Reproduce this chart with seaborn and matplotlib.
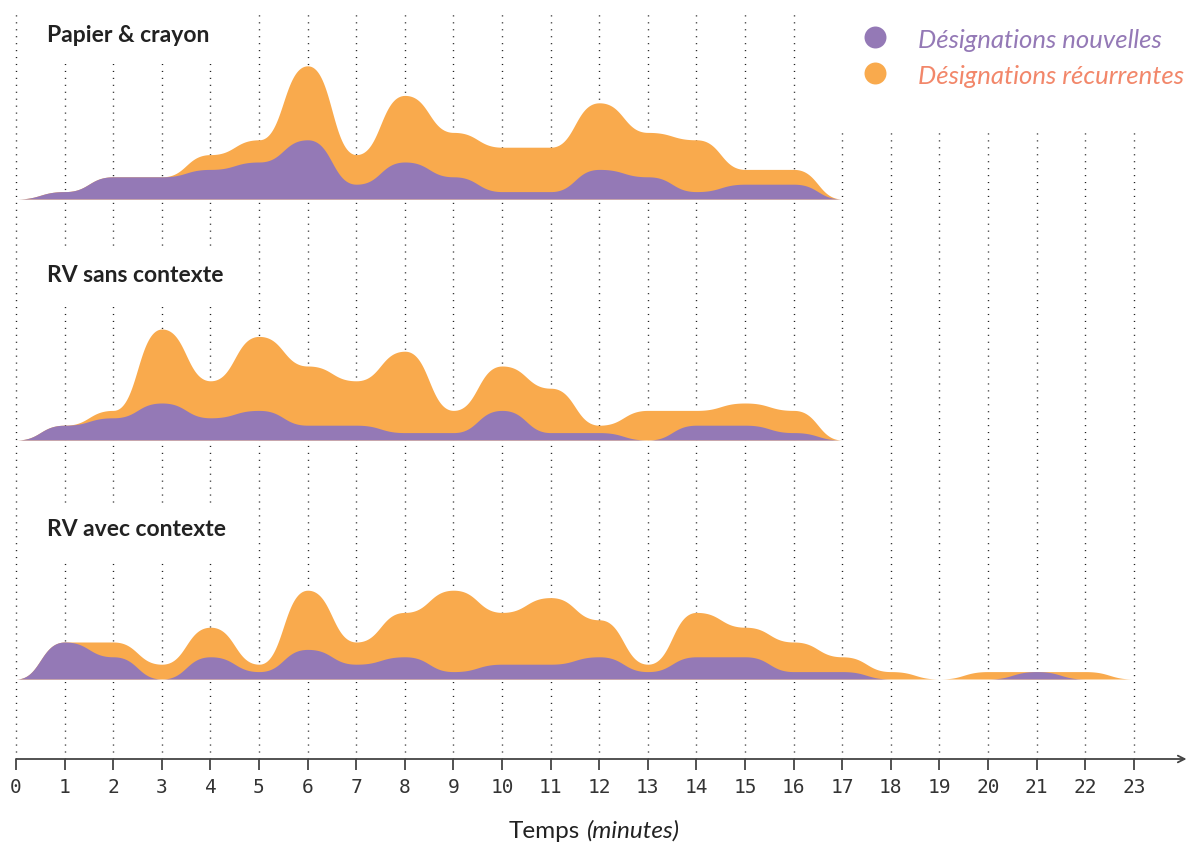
import numpy as np
import matplotlib.pyplot as plt
import seaborn as sns
from matplotlib.patches import Rectangle

# minutes and counts per minute (new / recurrent designations)
panels = ["Papier & crayon", "RV sans contexte", "RV avec contexte"]

minutes_pc = list(range(18))
new_pc = [0, 1, 3, 3, 4, 5, 8, 2, 5, 3, 1, 1, 4, 3, 1, 2, 2, 0]
rec_pc = [0, 0, 0, 0, 2, 3, 10, 4, 9, 6, 6, 6, 9, 6, 7, 2, 2, 0]

minutes_sc = list(range(18))
new_sc = [0, 2, 3, 5, 3, 4, 2, 2, 1, 1, 4, 1, 1, 0, 2, 2, 1, 0]
rec_sc = [0, 0, 1, 10, 5, 10, 8, 6, 11, 3, 6, 6, 1, 4, 2, 3, 3, 0]

minutes_ac = list(range(24))
new_ac = [0, 5, 3, 0, 3, 1, 4, 2, 3, 1, 2, 2, 3, 1, 3, 3, 1, 1, 0, 0, 0, 1, 0, 0]
rec_ac = [0, 0, 2, 2, 4, 1, 8, 3, 6, 11, 7, 9, 5, 1, 6, 4, 4, 2, 1, 0, 1, 0, 1, 0]

ticks = list(range(24))

PURPLE = "#9479b6"
ORANGE = "#f9aa4d"
SALMON = "#f2876a"


def bump(xs, ys, n=40):
    # smooth curve with flat tangent at every point (like d3 curveBumpX)
    xs = np.asarray(xs, float)
    ys = np.asarray(ys, float)
    t = np.linspace(0, 1, n)[1:]
    px, py = [xs[0]], [ys[0]]
    for x0, x1, y0, y1 in zip(xs[:-1], xs[1:], ys[:-1], ys[1:]):
        xm = (x0 + x1) / 2
        px.extend((1 - t) ** 3 * x0 + 3 * (1 - t) ** 2 * t * xm
                  + 3 * (1 - t) * t ** 2 * xm + t ** 3 * x1)
        py.extend(y0 + (y1 - y0) * (3 * t ** 2 - 2 * t ** 3))
    return np.array(px), np.array(py)


sns.set_theme(style="white")
plt.rcParams['font.family'] = ['Lato', 'DejaVu Sans']

fig = plt.figure(figsize=(11.87, 8.45), dpi=100)
ax = fig.add_axes([0, (845 - 760) / 845, 1, 760 / 845])

PX = 48.6   # pixels per minute
PY = 7.4    # pixels per count
x0_px = 16
xmin, xmax = -x0_px / PX, (1187 - x0_px) / PX
ytop = 760 / PY
ax.set_xlim(xmin, xmax)
ax.set_ylim(0, ytop)


def ypx(p):
    return (760 - p) / PY


# dotted vertical grid
ax.vlines(ticks, 0, ypx(12), colors="#222222", linewidth=1.0,
          linestyles=(0, (0.8, 4.2)), zorder=1)

# white masks behind titles and legend
for top, bot in [(0, 65), (250, 305), (505, 560)]:
    ax.add_patch(Rectangle((0.4, ypx(bot)), 4.3, (bot - top) / PY,
                           facecolor="white", edgecolor="none", zorder=2))
ax.add_patch(Rectangle((16.5, ypx(133)), 10, 133 / PY,
                       facecolor="white", edgecolor="none", zorder=2))

series = [
    (minutes_pc, new_pc, rec_pc, 200),
    (minutes_sc, new_sc, rec_sc, 441),
    (minutes_ac, new_ac, rec_ac, 680),
]
title_y = [35, 275, 530]

for (mins, new, rec, base_px), name, ty in zip(series, panels, title_y):
    base = ypx(base_px)
    total = np.array(new) + np.array(rec)
    xo, yo = bump(mins, total)
    xp, yp = bump(mins, new)
    ax.fill_between(xo, base, base + yo, color=ORANGE, linewidth=0, zorder=3)
    ax.fill_between(xp, base, base + yp, color=PURPLE, linewidth=0, zorder=4)
    ax.text((47 - x0_px) / PX, ypx(ty), name, fontsize=16.5,
            fontweight="bold", color="#222222", va="center", ha="left",
            zorder=6)

# legend
for yy, lab, mc, tc in [(38, "Désignations nouvelles", PURPLE, PURPLE),
                        (74, "Désignations récurrentes", ORANGE, SALMON)]:
    ax.scatter([(875 - x0_px) / PX], [ypx(yy)], s=250, color=mc,
               linewidths=0, zorder=6, clip_on=False)
    ax.text((918 - x0_px) / PX, ypx(yy + 2), lab, fontsize=18.5,
            style="italic", color=tc, va="center", ha="left", zorder=6)

# x axis with arrow
for s in ax.spines.values():
    s.set_visible(False)
ax.annotate("", xy=(xmax - 0.01, 0), xytext=(0, 0), xycoords="data",
            arrowprops=dict(arrowstyle="->", lw=1.3, color="#444444",
                            shrinkA=0, shrinkB=0), annotation_clip=False)
ax.set_xticks(ticks)
ax.set_xticklabels([str(t) for t in ticks], fontfamily="DejaVu Sans Mono",
                   fontsize=14, color="#333333")
ax.tick_params(axis="x", direction="out", length=8, width=1.3,
               color="#444444", pad=5, bottom=True)
ax.set_yticks([])

fig.text(580 / 1187, 7 / 845, "Temps", fontsize=17.5, color="#222222",
         ha="right", va="baseline")
fig.text(587 / 1187, 7 / 845, "(minutes)", fontsize=17.5, style="italic",
         color="#222222", ha="left", va="baseline")

fig.savefig("out.png", dpi=100)
